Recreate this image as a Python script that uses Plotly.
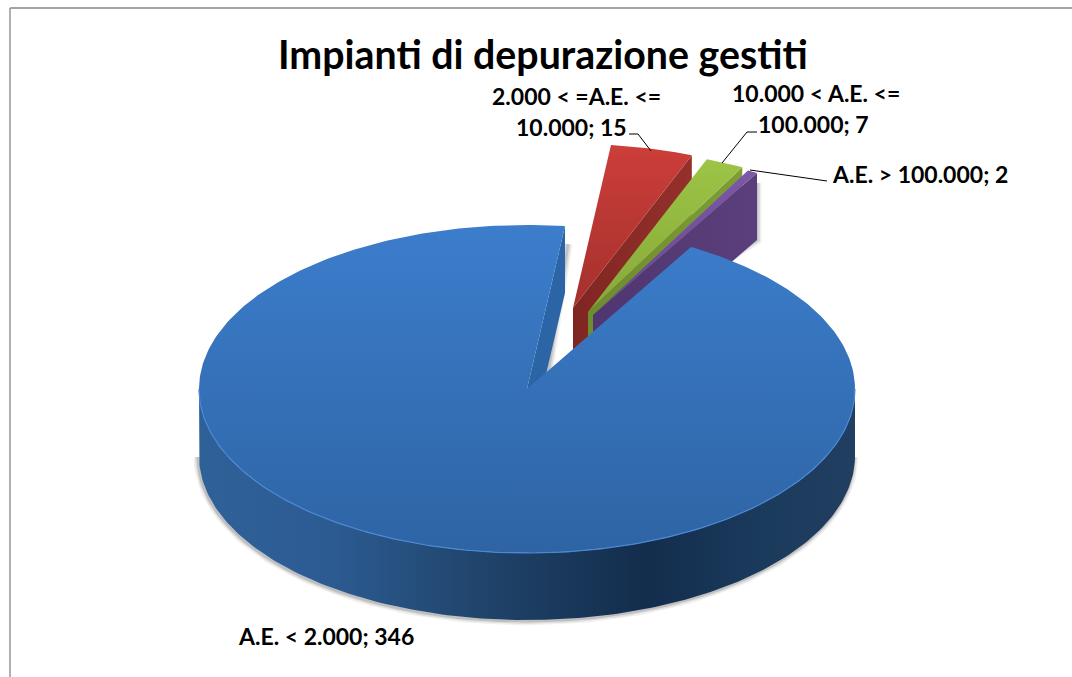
import numpy as np
import plotly.graph_objects as go

# Data
categories = ["A.E. < 2.000", "2.000 < =A.E. <= 10.000", "10.000 < A.E. <= 100.000", "A.E. > 100.000"]
values = [346, 15, 7, 2]
title_text = "Impianti di depurazione gestiti"

# Projection of the tilted pie (style/geometry)
CX, CY, RX, RY, DEPTH = 527, 389, 328, 164, 67
FIRST_ANGLE = 30
PULL = [(0, 0), (46, -81), (61, -77), (66, -74)]
TOP = [
    [[0, "#2e64a4"], [1, "#3c7dcc"]],
    [[0, "#a4302c"], [1, "#cc3e3a"]],
    [[0, "#86a93a"], [1, "#9cc445"]],
    [[0, "#684692"], [1, "#7d57a8"]],
]
FACE = ["#2b65a5", "#7f2622", "#6c8c2e", "#4f3670"]
FACE_FAR = ["#2b65a5", "#95302b", "#7d9d35", "#5b3f7c"]


def pt(a, off=(0, 0), z=0):
    r = np.radians(a)
    return CX + off[0] + RX * np.sin(r), CY + off[1] - RY * np.cos(r) + z


def area(x, y, gradient=None, color=None):
    kw = dict(x=x, y=y, mode="lines", line=dict(width=0), fill="toself",
              hoverinfo="skip", showlegend=False)
    if gradient is not None:
        kw["fillgradient"] = gradient
    else:
        kw["fillcolor"] = color
    return go.Scatter(**kw)


def stroke(x, y, color, width):
    return go.Scatter(x=x, y=y, mode="lines", line=dict(color=color, width=width),
                      hoverinfo="skip", showlegend=False)


# Slice angles, clockwise from 12 o'clock
total = sum(values)
spans = [v / total * 360 for v in values]
starts = [FIRST_ANGLE + sum(spans[:i]) for i in range(len(values))]
ends = [s + w for s, w in zip(starts, spans)]

traces = []

# Pulled slices, far to near
for i in (1, 2, 3):
    off = PULL[i]
    tipx, tipy = CX + off[0], CY + off[1]
    ex, ey = pt(ends[i], off)
    if i == 3:
        # soft shadow under the pulled purple block
        for w, op in ((9, .06), (6, .08), (3, .12)):
            traces.append(stroke([ex, ex, tipx + 90], [ey + 10, ey + DEPTH, ey + DEPTH + 48],
                                 f"rgba(0,0,0,{op})", w))
    traces.append(area([tipx, ex, ex, tipx, tipx], [tipy, ey, ey + DEPTH, tipy + DEPTH, tipy],
                       gradient=dict(type="horizontal",
                                     colorscale=[[0, FACE[i]], [1, FACE_FAR[i]]])))
    arc = np.linspace(starts[i], ends[i], 30)
    ax, ay = pt(arc, off)
    traces.append(area([tipx, *ax, tipx], [tipy, *ay, tipy],
                       gradient=dict(type="vertical", colorscale=TOP[i])))

# Main slice: inner radial face
ex, ey = pt(ends[0] - 360)
for w, op in ((9, .06), (6, .08), (3, .12)):
    traces.append(stroke([ex + 3, CX + 21], [ey + 18, CY - 15], f"rgba(0,0,0,{op})", w))
traces.append(area([CX, ex, ex, CX, CX], [CY, ey, ey + DEPTH, CY + DEPTH, CY], color=FACE[0]))

# Main slice: shadow and outer wall
wall = np.linspace(90, 270, 181)
wx, wy = pt(wall)
for w, op in ((9, .05), (6, .08), (3, .14)):
    traces.append(stroke(wx - 1, wy + DEPTH + 1, f"rgba(0,0,0,{op})", w))
traces.append(area([*wx, *wx[::-1]], [*wy, *(wy[::-1] + DEPTH)],
                   gradient=dict(type="horizontal", colorscale=[
                       [0, "#2f6199"], [0.2, "#2c5b92"], [0.45, "#1f4268"],
                       [0.68, "#132d4c"], [0.85, "#1a3a5c"], [1, "#213f60"]])))

# Main slice: top
arc = np.linspace(starts[0], ends[0], 361)
ax, ay = pt(arc)
traces.append(area([CX, *ax, CX], [CY, *ay, CY],
                   gradient=dict(type="vertical", colorscale=TOP[0])))
traces.append(stroke(wx, wy, "#4a88d4", 1.2))

# Leader lines
traces.append(stroke([629, 638, 651], [134, 134, 151], "#000000", 1))
traces.append(stroke([757, 747, 722], [132, 132, 163], "#000000", 1))
traces.append(stroke([750, 827], [170, 181], "#000000", 1))

# Frame
shapes = [
    dict(type="line", x0=10, x1=1072, y0=8, y1=8, line=dict(color="#868686", width=1.3)),
    dict(type="line", x0=10, x1=10, y0=8, y1=677, line=dict(color="#868686", width=1.3)),
]

# Data labels
labels = [f"{c}; {v}".replace("<= ", "<=\n").split("\n") for c, v in zip(categories, values)]
label_pos = [
    [(325.5, 636)],
    [(576.5, 96), (571, 127)],
    [(816, 93), (813.5, 124)],
    [(919.5, 174)],
]
annotations = [
    dict(x=x, y=y, text=line, showarrow=False, xref="x", yref="y",
         xanchor="center", yanchor="middle",
         font=dict(family="Lato", size=23, color="#000000", weight="bold"))
    for lines, pos in zip(labels, label_pos)
    for line, (x, y) in zip(lines, pos)
]
annotations.append(dict(x=543, y=53, text=title_text, showarrow=False, xref="x", yref="y",
                        xanchor="center", yanchor="middle",
                        font=dict(family="Lato", size=39.3, color="#000000", weight="bold")))

fig = go.Figure(traces)
fig.update_layout(
    width=1072, height=677, margin=dict(l=0, r=0, t=0, b=0),
    paper_bgcolor="white", plot_bgcolor="white", showlegend=False,
    xaxis=dict(range=[0, 1072], visible=False, fixedrange=True),
    yaxis=dict(range=[677, 0], visible=False, fixedrange=True),
    shapes=shapes, annotations=annotations,
)
fig.write_html("out.html", config={"displayModeBar": False},
               post_script="document.body.style.margin='0';document.body.style.overflow='hidden';")
